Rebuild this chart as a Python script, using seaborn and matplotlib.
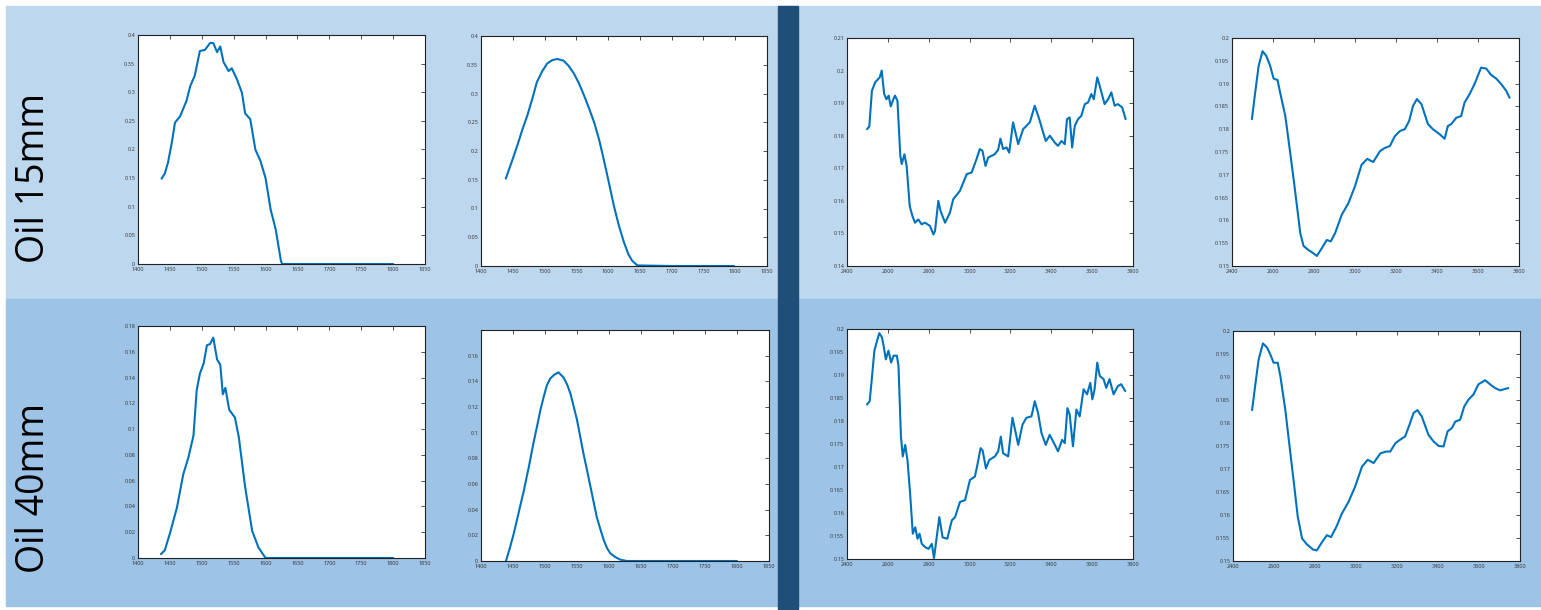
import matplotlib
matplotlib.use("Agg")
import matplotlib.pyplot as plt
from matplotlib.patches import Rectangle
import seaborn as sns

# ─── Data ────────────────────────────────────────────────────────────────────
# left pair: measured / fitted spectrum (nm), right pair: raw / smoothed
wl_15_meas = [1437, 1442, 1447, 1453, 1458, 1466, 1476, 1482, 1489, 1497, 1505, 1513,
              1518, 1524, 1529, 1534, 1542, 1547, 1555, 1563, 1568, 1576, 1584, 1592,
              1600, 1608, 1616, 1624, 1626, 1650, 1700, 1750, 1800]
val_15_meas = [0.149, 0.158, 0.177, 0.212, 0.247, 0.258, 0.285, 0.311, 0.329, 0.372,
               0.374, 0.386, 0.386, 0.370, 0.380, 0.353, 0.337, 0.342, 0.323, 0.299,
               0.263, 0.253, 0.200, 0.180, 0.150, 0.095, 0.060, 0.006, 0.0, 0.0, 0.0,
               0.0, 0.0]

wl_15_fit = [1439, 1448, 1457, 1465, 1473, 1481, 1488, 1496, 1504, 1512, 1520, 1530,
             1538, 1546, 1554, 1562, 1570, 1578, 1586, 1593, 1601, 1609, 1617, 1625,
             1632, 1638, 1646, 1700, 1750, 1798]
val_15_fit = [0.152, 0.180, 0.209, 0.237, 0.262, 0.292, 0.320, 0.338, 0.352, 0.358,
              0.360, 0.357, 0.348, 0.335, 0.318, 0.297, 0.274, 0.250, 0.219, 0.186,
              0.146, 0.105, 0.070, 0.041, 0.020, 0.009, 0.001, 0.0, 0.0, 0.0]

wl_40_meas = [1436, 1442, 1450, 1461, 1471, 1479, 1487, 1492, 1497, 1503, 1508, 1513,
              1518, 1524, 1529, 1533, 1537, 1543, 1552, 1558, 1568, 1579, 1589, 1600,
              1650, 1700, 1750, 1800]
val_40_meas = [0.003, 0.006, 0.019, 0.039, 0.065, 0.078, 0.095, 0.130, 0.143, 0.151,
               0.165, 0.166, 0.171, 0.154, 0.150, 0.127, 0.132, 0.115, 0.109, 0.094,
               0.055, 0.021, 0.008, 0.0, 0.0, 0.0, 0.0, 0.0]

wl_40_fit = [1439, 1445, 1451, 1459, 1467, 1475, 1482, 1488, 1493, 1498, 1503, 1508,
             1514, 1521, 1529, 1535, 1540, 1545, 1550, 1555, 1560, 1566, 1571, 1576,
             1581, 1587, 1592, 1597, 1602, 1610, 1618, 1628, 1700, 1750, 1800]
val_40_fit = [0.0, 0.010, 0.021, 0.038, 0.055, 0.074, 0.092, 0.106, 0.118, 0.128,
              0.137, 0.142, 0.145, 0.147, 0.143, 0.137, 0.130, 0.120, 0.110, 0.097,
              0.084, 0.070, 0.058, 0.046, 0.034, 0.024, 0.016, 0.010, 0.006, 0.003,
              0.001, 0.0, 0.0, 0.0, 0.0]

wn_15_raw = [2498, 2509, 2522, 2538, 2560, 2570, 2582, 2593, 2604, 2614, 2627, 2635,
             2647, 2661, 2668, 2681, 2692, 2707, 2720, 2733, 2749, 2765, 2782, 2806,
             2823, 2831, 2847, 2858, 2880, 2904, 2920, 2953, 2986, 3010, 3034, 3050,
             3063, 3078, 3091, 3123, 3140, 3151, 3164, 3181, 3194, 3213, 3238, 3262,
             3295, 3319, 3341, 3360, 3373, 3393, 3417, 3433, 3450, 3466, 3477, 3490,
             3502, 3515, 3531, 3547, 3564, 3580, 3596, 3608, 3625, 3637, 3661, 3678,
             3694, 3710, 3726, 3747, 3764]
val_15_raw = [0.1820, 0.1828, 0.1938, 0.1964, 0.1979, 0.2000, 0.1928, 0.1912, 0.1923,
              0.1890, 0.1912, 0.1923, 0.1907, 0.1738, 0.1713, 0.1743, 0.1707, 0.1584,
              0.1554, 0.1533, 0.1543, 0.1528, 0.1533, 0.1523, 0.1497, 0.1508, 0.1600,
              0.1569, 0.1533, 0.1564, 0.1605, 0.1631, 0.1682, 0.1687, 0.1728, 0.1759,
              0.1754, 0.1707, 0.1733, 0.1743, 0.1757, 0.1791, 0.1759, 0.1764, 0.1748,
              0.1841, 0.1774, 0.1820, 0.1841, 0.1892, 0.1851, 0.1810, 0.1784, 0.1800,
              0.1779, 0.1769, 0.1784, 0.1774, 0.1851, 0.1856, 0.1764, 0.1830, 0.1851,
              0.1861, 0.1897, 0.1902, 0.1928, 0.1912, 0.1979, 0.1953, 0.1897, 0.1912,
              0.1933, 0.1892, 0.1897, 0.1887, 0.1851]

wn_15_smooth = [2497, 2513, 2530, 2549, 2567, 2586, 2603, 2622, 2635, 2660, 2684, 2701,
                2717, 2733, 2749, 2773, 2797, 2814, 2838, 2862, 2882, 2903, 2935, 2968,
                3000, 3032, 3060, 3089, 3122, 3146, 3170, 3195, 3219, 3243, 3264, 3283,
                3302, 3324, 3340, 3356, 3380, 3413, 3437, 3453, 3469, 3494, 3518, 3534,
                3559, 3583, 3599, 3615, 3640, 3664, 3689, 3713, 3738, 3754]
val_15_smooth = [0.1822, 0.1880, 0.1939, 0.1971, 0.1961, 0.1939, 0.1911, 0.1908, 0.1880,
                 0.1829, 0.1748, 0.1689, 0.1631, 0.1572, 0.1544, 0.1535, 0.1528, 0.1522,
                 0.1539, 0.1557, 0.1554, 0.1572, 0.1612, 0.1638, 0.1675, 0.1722, 0.1735,
                 0.1728, 0.1752, 0.1759, 0.1763, 0.1785, 0.1796, 0.1800, 0.1818, 0.1851,
                 0.1866, 0.1855, 0.1833, 0.1811, 0.1800, 0.1789, 0.1779, 0.1807, 0.1811,
                 0.1825, 0.1829, 0.1858, 0.1877, 0.1899, 0.1917, 0.1935, 0.1933, 0.1919,
                 0.1911, 0.1899, 0.1884, 0.1869]

wn_40_raw = [2498, 2511, 2522, 2534, 2547, 2558, 2571, 2579, 2590, 2603, 2616, 2628,
             2644, 2652, 2664, 2673, 2685, 2696, 2709, 2722, 2734, 2745, 2755, 2766,
             2782, 2799, 2815, 2826, 2839, 2852, 2868, 2891, 2913, 2929, 2953, 2978,
             3002, 3026, 3038, 3054, 3064, 3080, 3096, 3124, 3140, 3153, 3164, 3189,
             3210, 3226, 3238, 3259, 3278, 3303, 3319, 3335, 3352, 3373, 3392, 3413,
             3433, 3453, 3466, 3479, 3490, 3506, 3523, 3539, 3558, 3575, 3591, 3601,
             3612, 3625, 3637, 3656, 3669, 3685, 3705, 3726, 3742, 3762]
val_40_raw = [0.1836, 0.1843, 0.1894, 0.1953, 0.1974, 0.1991, 0.1982, 0.1964, 0.1934,
              0.1953, 0.1927, 0.1942, 0.1942, 0.1920, 0.1766, 0.1723, 0.1748, 0.1715,
              0.1642, 0.1555, 0.1569, 0.1544, 0.1555, 0.1533, 0.1526, 0.1522, 0.1533,
              0.1502, 0.1547, 0.1591, 0.1547, 0.1544, 0.1584, 0.1591, 0.1624, 0.1628,
              0.1672, 0.1679, 0.1704, 0.1741, 0.1736, 0.1697, 0.1715, 0.1723, 0.1734,
              0.1766, 0.1730, 0.1723, 0.1807, 0.1774, 0.1748, 0.1792, 0.1807, 0.1810,
              0.1843, 0.1818, 0.1774, 0.1748, 0.1770, 0.1752, 0.1734, 0.1759, 0.1752,
              0.1828, 0.1814, 0.1745, 0.1825, 0.1810, 0.1869, 0.1858, 0.1883, 0.1847,
              0.1869, 0.1927, 0.1898, 0.1891, 0.1872, 0.1891, 0.1858, 0.1876, 0.1880,
              0.1865]

wn_40_smooth = [2493, 2509, 2525, 2546, 2566, 2582, 2598, 2618, 2631, 2655, 2680, 2699,
                2716, 2737, 2761, 2790, 2809, 2834, 2858, 2878, 2904, 2931, 2964, 2996,
                3029, 3057, 3086, 3119, 3148, 3167, 3192, 3213, 3240, 3264, 3281, 3300,
                3321, 3338, 3354, 3378, 3403, 3427, 3447, 3468, 3484, 3508, 3528, 3549,
                3573, 3597, 3630, 3654, 3678, 3703, 3719, 3743]
val_40_smooth = [0.1828, 0.1884, 0.1938, 0.1973, 0.1964, 0.1949, 0.1931, 0.1931, 0.1902,
                 0.1829, 0.1734, 0.1662, 0.1596, 0.1549, 0.1536, 0.1525, 0.1523, 0.1541,
                 0.1556, 0.1552, 0.1574, 0.1603, 0.1629, 0.1662, 0.1705, 0.1720, 0.1713,
                 0.1734, 0.1738, 0.1738, 0.1756, 0.1763, 0.1771, 0.1800, 0.1822, 0.1828,
                 0.1814, 0.1793, 0.1774, 0.1760, 0.1750, 0.1749, 0.1782, 0.1789, 0.1803,
                 0.1807, 0.1836, 0.1851, 0.1862, 0.1884, 0.1893, 0.1884, 0.1876, 0.1871,
                 0.1873, 0.1876]

row_labels = ["Oil 15mm", "Oil 40mm"]

wl_ticks  = [1400, 1450, 1500, 1550, 1600, 1650, 1700, 1750, 1800, 1850]
wn_ticks  = [2400, 2600, 2800, 3000, 3200, 3400, 3600, 3800]
y15_ticks = [0, 0.05, 0.1, 0.15, 0.2, 0.25, 0.3, 0.35, 0.4]
y40_ticks = [0, 0.02, 0.04, 0.06, 0.08, 0.1, 0.12, 0.14, 0.16, 0.18]
yraw15_ticks = [0.14, 0.15, 0.16, 0.17, 0.18, 0.19, 0.2, 0.21]
ysm_ticks = [0.15, 0.155, 0.16, 0.165, 0.17, 0.175, 0.18, 0.185, 0.19, 0.195, 0.2]

# ─── Style ───────────────────────────────────────────────────────────────────
sns.set_style("white")
plt.rcParams["font.family"] = ["Open Sans", "DejaVu Sans"]

LINE   = "#0072BD"
TOP_BG = "#BDD7EE"
BOT_BG = "#9DC3E6"
NAVY   = "#1F4E79"
W, H   = 1541, 610

fig = plt.figure(figsize=(W / 100, H / 100), dpi=100, facecolor="white")

# slide background bands (pixel boxes -> figure fraction), kept under the axes
def px_rect(x0, y0, x1, y1, color):
    fig.patches.append(Rectangle((x0 / W, 1 - y1 / H), (x1 - x0) / W, (y1 - y0) / H,
                                 transform=fig.transFigure, color=color, zorder=-5))

px_rect(6, 6, 1540, 299, TOP_BG)
px_rect(6, 299, 1540, 606, BOT_BG)
px_rect(778, 6, 798, 610, NAVY)


def add_panel(box, x, y, xlim, xticks, ylim, yticks, ylabels=None):
    x0, y0, x1, y1 = box
    ax = fig.add_axes([x0 / W, 1 - y1 / H, (x1 - x0) / W, (y1 - y0) / H])
    ax.set_zorder(2)
    sns.lineplot(x=x, y=y, ax=ax, color=LINE, linewidth=1.5, estimator=None)
    ax.set_xlim(*xlim)
    ax.set_ylim(*ylim)
    ax.set_xticks(xticks)
    ax.set_xticklabels([str(t) for t in xticks])
    ax.set_yticks(yticks)
    ax.set_yticklabels(ylabels if ylabels is not None else [f"{t:g}" for t in yticks])
    ax.set_xlabel("")
    ax.set_ylabel("")
    ax.tick_params(direction="in", length=3, width=0.6, labelsize=4, colors="#333333",
                   top=True, right=True, pad=2)
    for s in ax.spines.values():
        s.set_color("#222222")
        s.set_linewidth(0.8)
    ax.set_facecolor("white")
    return ax


WL = (1400, 1850)
WN = (2400, 3800)

# top row: Oil 15mm
add_panel((138, 35, 425, 264), wl_15_meas, val_15_meas, WL, wl_ticks, (0, 0.4), y15_ticks)
add_panel((481, 36, 767, 266), wl_15_fit, val_15_fit, WL, wl_ticks, (0, 0.4), y15_ticks)
add_panel((847, 38, 1133, 266), wn_15_raw, val_15_raw, WN, wn_ticks, (0.14, 0.21), yraw15_ticks)
add_panel((1232, 38, 1519, 266), wn_15_smooth, val_15_smooth, WN, wn_ticks, (0.15, 0.2), ysm_ticks)

# bottom row: Oil 40mm
add_panel((138, 326, 425, 558), wl_40_meas, val_40_meas, WL, wl_ticks, (0, 0.18), y40_ticks)
add_panel((481, 330, 769, 561), wl_40_fit, val_40_fit, WL, wl_ticks, (0, 0.18), y40_ticks,
          ylabels=[f"{t:g}" for t in y40_ticks[:-1]] + [""])
add_panel((847, 329, 1133, 559), wn_40_raw, val_40_raw, WN, wn_ticks, (0.15, 0.2), ysm_ticks)
add_panel((1233, 331, 1520, 561), wn_40_smooth, val_40_smooth, WN, wn_ticks, (0.15, 0.2), ysm_ticks)

# row labels
for label, yc in zip(row_labels, [178, 488]):
    fig.text(34 / W, 1 - yc / H, label, rotation=90, ha="center", va="center",
             fontsize=27, color="black", zorder=3)

fig.savefig("out.png", dpi=100, facecolor="white")
plt.close(fig)
